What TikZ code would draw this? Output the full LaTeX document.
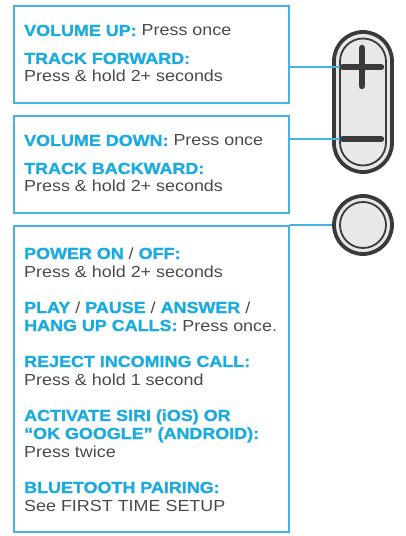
\documentclass[tikz,border=0pt]{standalone}
\usepackage{fontspec}
\setmainfont{Liberation Sans}[FakeStretch=1.12, BoldFeatures={FakeBold=1.2}]
\usetikzlibrary{positioning}

\definecolor{jblue}{HTML}{1AABE0}
\definecolor{jline}{HTML}{45B3E0}
\definecolor{jgray}{HTML}{4A4A4A}
\definecolor{jdark}{HTML}{3A3A3A}
\definecolor{jfill}{HTML}{E8E8E8}

\newcommand{\hd}[1]{\textcolor{jblue}{\bfseries #1}}

\tikzset{
  panel/.style={draw=jline, line width=1.8bp, anchor=north west,
    minimum width=275bp},
  lbl/.style={anchor=base west, inner sep=0pt, text=jgray,
    font=\fontsize{16bp}{18bp}\selectfont},
  wire/.style={draw=jline, line width=1.5bp},
  keymark/.style={draw=jdark, line width=6.5bp, line cap=round},
  shell/.style={draw=jdark, line width=3.8bp, fill=jfill},
  rim/.style={draw=jdark, line width=1.8bp}
}

\begin{document}
\begin{tikzpicture}[x=1bp,y=-1bp]
\useasboundingbox (0,0) rectangle (405,536);

%--------------------
% 操作説明の枠
%--------------------
\node[panel, minimum height=97bp]  (box1) at (13,5)   {};
\node[panel, minimum height=97bp]  (box2) at (13,115) {};
\node[panel, minimum height=306bp] (box3) at (13,225) {};

% 音量 +
\node[lbl] (volup)  at (24,36) {\hd{VOLUME UP:} Press once};
\node[lbl] (trfw)   at (24,64) {\hd{TRACK FORWARD:}};
\node[lbl] (trfwp)  at (24,82) {Press \& hold 2+ seconds};

% 音量 -
\node[lbl] (voldn)  at (24,146) {\hd{VOLUME DOWN:} Press once};
\node[lbl] (trbw)   at (24,174) {\hd{TRACK BACKWARD:}};
\node[lbl] (trbwp)  at (24,192) {Press \& hold 2+ seconds};

% 電源ボタン
\node[lbl] (power)  at (24,259) {\hd{POWER ON} / \hd{OFF:}};
\node[lbl] (powerp) at (24,277) {Press \& hold 2+ seconds};
\node[lbl] (play)   at (24,313) {\hd{PLAY} / \hd{PAUSE} / \hd{ANSWER} /};
\node[lbl] (hang)   at (24,331) {\hd{HANG UP CALLS:} Press once.};
\node[lbl] (reject) at (24,367) {\hd{REJECT INCOMING CALL:}};
\node[lbl] (rejp)   at (24,385) {Press \& hold 1 second};
\node[lbl] (siri)   at (24,421) {\hd{ACTIVATE SIRI (iOS) OR}};
\node[lbl] (okg)    at (24,439) {\hd{“OK GOOGLE” (ANDROID):}};
\node[lbl] (sirip)  at (24,457) {Press twice};
\node[lbl] (bt)     at (24,493) {\hd{BLUETOOTH PAIRING:}};
\node[lbl] (btp)    at (24,511) {See FIRST TIME SETUP};

%--------------------
% リモコン本体
%--------------------
\node[shell, rounded corners=29bp, minimum width=58bp, minimum height=140bp]
  (pill) at (363,102) {};
\node[rim, rounded corners=23bp, minimum width=46bp, minimum height=127bp]
  (pillin) at (pill.center) {};

\node[shell, circle, minimum size=58bp] (pwr) at (363,225) {};
\node[rim, circle, minimum size=46bp] (pwrin) at (pwr.center) {};

% ボタン記号の端
\coordinate (plusL)  at (343,67);
\coordinate (plusR)  at (381,67);
\coordinate (plusT)  at (362,48);
\coordinate (plusB)  at (362,86);
\coordinate (minusL) at (343,139);
\coordinate (minusR) at (381,139);

% 引き出し線
\draw[wire] (box1.east |- plusL) -- (plusL);
\draw[wire] (box2.east |- minusL) -- (minusL);
\draw[wire] (box3.north east) -- (pwr.west);

% + と -
\draw[keymark] (plusL) -- (plusR);
\draw[keymark] (plusT) -- (plusB);
\draw[keymark] (minusL) -- (minusR);

\end{tikzpicture}
\end{document}
